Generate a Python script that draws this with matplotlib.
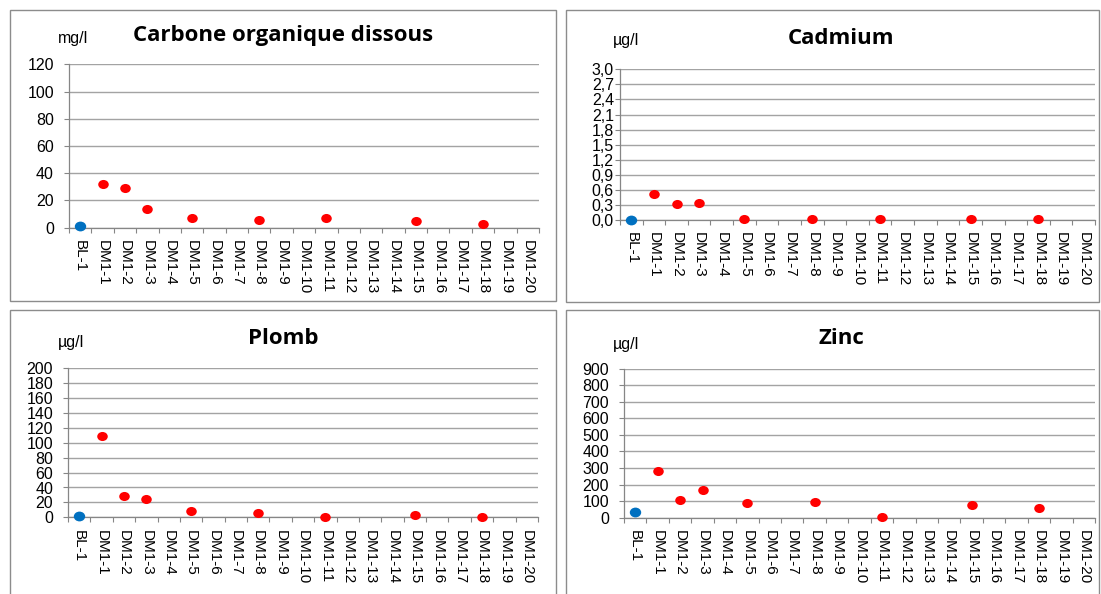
import matplotlib
matplotlib.use('Agg')
import matplotlib.pyplot as plt
from matplotlib.patches import Rectangle
from matplotlib.path import Path
from matplotlib.transforms import Affine2D
from matplotlib.ticker import FuncFormatter

# categories
stations = ["BL-1"] + ["DM1-%d" % i for i in range(1, 21)]

# measured values (None = not sampled)
cod = [1.5, 32.2, 28.8, 13.4, None, 7.1, None, None, 5.9, None, None, 7.3,
       None, None, None, 4.6, None, None, 2.9, None, None]
cadmium = [0.0, 0.51, 0.31, 0.33, None, 0.01, None, None, 0.01, None, None, 0.01,
           None, None, None, 0.01, None, None, 0.01, None, None]
plomb = [1.8, 108.5, 29, 24, None, 8.5, None, None, 5.4, None, None, 0.5,
         None, None, None, 2.7, None, None, 0.5, None, None]
zinc = [36, 284, 106, 170, None, 86, None, None, 94, None, None, 6,
        None, None, None, 76, None, None, 56, None, None]

W, H = 1101, 594
fig = plt.figure(figsize=(W / 100, H / 100), dpi=100)
fig.patch.set_facecolor("white")

GRID = "#a3a3a3"
AXIS = "#868686"
RED = "#ff0000"
BLUE = "#0070c0"
FONT = "Liberation Sans"
TFONT = "Open Sans"

# slightly flattened dot, like the original excel markers
oval = Path.unit_circle().transformed(Affine2D().scale(1.0, 0.86))


def px_axes(left, right, top, bottom):
    return fig.add_axes([left / W, 1 - bottom / H, (right - left) / W, (bottom - top) / H])


def panel(box, ax_px, values, ymax, ystep, title, unit, title_xy, unit_xy, fmt=None, ypad=7.2):
    x0, y0, x1, y1 = box
    fig.patches.append(Rectangle((x0 / W, 1 - y1 / H), (x1 - x0) / W, (y1 - y0) / H,
                                 transform=fig.transFigure, fill=False,
                                 edgecolor="#8c8c8c", linewidth=1.0))
    ax = px_axes(*ax_px)
    n = len(stations)
    ax.set_xlim(-0.5, n - 0.5)
    ax.set_ylim(0, ymax)
    ticks = [i * ystep for i in range(int(round(ymax / ystep)) + 1)]
    ax.set_yticks(ticks)
    if fmt:
        ax.yaxis.set_major_formatter(FuncFormatter(fmt))
    ax.set_xticks(range(n))
    ax.set_xticklabels(stations, rotation=270, fontsize=11, family=FONT)
    ax.set_xticks([i - 0.5 for i in range(n + 1)], minor=True)
    ax.tick_params(axis="x", which="major", length=0, pad=9)
    ax.tick_params(axis="x", which="minor", length=3.6, color=AXIS, width=0.8)
    ax.tick_params(axis="y", length=3.6, color=AXIS, width=0.8, labelsize=11.5, pad=ypad)
    for lab in ax.get_yticklabels():
        lab.set_family(FONT)
    ax.grid(axis="y", color=GRID, linewidth=1.0)
    ax.set_axisbelow(True)
    for s in ["top", "right"]:
        ax.spines[s].set_visible(False)
    for s in ["left", "bottom"]:
        ax.spines[s].set_color(AXIS)
        ax.spines[s].set_linewidth(0.9)
    xs = [i for i, v in enumerate(values) if v is not None and i > 0]
    ys = [values[i] for i in xs]
    ax.plot(xs, ys, linestyle="none", marker=oval, color=RED, markersize=7.6,
            markeredgewidth=0, clip_on=False, zorder=3)
    ax.plot([0], [values[0]], linestyle="none", marker=oval, color=BLUE, markersize=8.2,
            markeredgewidth=0, clip_on=False, zorder=3)
    fig.text(title_xy[0] / W, 1 - title_xy[1] / H, title, ha="center", va="center",
             fontsize=16, fontweight="bold", family=TFONT)
    fig.text(unit_xy[0] / W, 1 - unit_xy[1] / H, unit, ha="left", va="center",
             fontsize=11.5, family=FONT)
    return ax


comma = lambda v, p: ("%.1f" % v).replace(".", ",")

panel((10, 10, 556, 301), (69, 539, 64.3, 227.7), cod, 120, 20,
      "Carbone organique dissous", "mg/l", (283, 36), (58, 38))
panel((566, 10, 1099, 302), (620, 1095, 69.3, 220), cadmium, 3.0, 0.3,
      "Cadmium", "µg/l", (841, 38), (613, 41), fmt=comma, ypad=0.8)
panel((10, 310, 556, 600), (68, 538, 368.3, 517.3), plomb, 200, 20,
      "Plomb", "µg/l", (283, 338), (58, 342))
panel((566, 310, 1099, 600), (624, 1095, 368.7, 517.7), zinc, 900, 100,
      "Zinc", "µg/l", (841, 338), (613, 344))

fig.savefig("out.png", dpi=100)
